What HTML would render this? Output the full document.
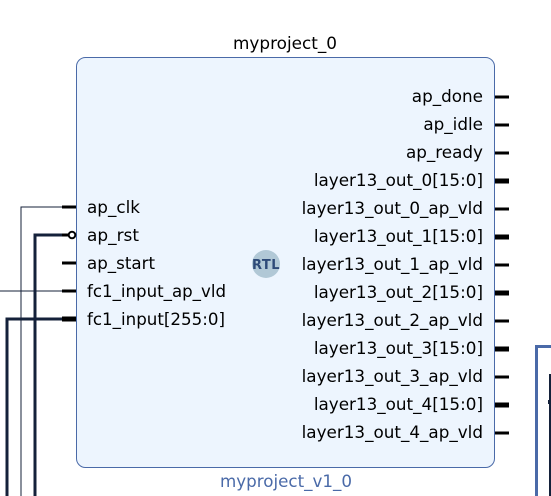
<!DOCTYPE html>
<html><head><meta charset="utf-8"><style>
html,body{margin:0;padding:0;background:#fff;}
svg{display:block;font-family:"DejaVu Sans","Liberation Sans",sans-serif;}
</style></head><body>
<svg width="551" height="496" viewBox="0 0 551 496" xmlns="http://www.w3.org/2000/svg">
<rect x="76.5" y="57.5" width="418" height="410" rx="9" fill="#edf5fe" stroke="#4a6aa8" stroke-width="1"/>
<text x="233" y="49" font-size="16.5" textLength="104" lengthAdjust="spacingAndGlyphs" fill="#000">myproject_0</text>
<text x="220" y="487" font-size="16.5" textLength="132" lengthAdjust="spacingAndGlyphs" fill="#4a6aa8">myproject_v1_0</text>
<!-- RTL logo -->
<circle cx="266" cy="264" r="14" fill="#b1c8d6"/>
<text x="266" y="269" font-size="13" font-weight="bold" text-anchor="middle" fill="#2e4a78" letter-spacing="0.5">RTL</text>
<!-- left wires -->
<g fill="none" stroke="#14213a">
<polyline points="21,496 21,207 64,207" stroke-width="1"/>
<polyline points="35,496 35,235 68,235" stroke-width="3"/>
<line x1="0" y1="291" x2="64" y2="291" stroke-width="1"/>
<polyline points="7,496 7,319 64,319" stroke-width="3"/>
</g>
<!-- left pins -->
<g stroke="#000">
<line x1="62" y1="207" x2="76" y2="207" stroke-width="3"/>
<line x1="62" y1="263" x2="76" y2="263" stroke-width="3"/>
<line x1="62" y1="291" x2="76" y2="291" stroke-width="3"/>
<line x1="62" y1="319" x2="76" y2="319" stroke-width="5"/>
<line x1="62" y1="235" x2="68" y2="235" stroke-width="3"/>
<circle cx="72" cy="235" r="3.3" fill="#fff" stroke-width="2"/>
</g>
<g font-size="16.5" fill="#000">
<text x="87" y="213" textLength="53" lengthAdjust="spacingAndGlyphs">ap_clk</text>
<text x="87" y="241" textLength="52" lengthAdjust="spacingAndGlyphs">ap_rst</text>
<text x="87" y="269" textLength="68" lengthAdjust="spacingAndGlyphs">ap_start</text>
<text x="87" y="297" textLength="139" lengthAdjust="spacingAndGlyphs">fc1_input_ap_vld</text>
<text x="87" y="325" textLength="138" lengthAdjust="spacingAndGlyphs">fc1_input[255:0]</text>
</g>
<!-- right pins -->
<g stroke="#000">
<line x1="495" y1="97" x2="509" y2="97" stroke-width="3"/>
<line x1="495" y1="125" x2="509" y2="125" stroke-width="3"/>
<line x1="495" y1="153" x2="509" y2="153" stroke-width="3"/>
<line x1="495" y1="181" x2="509" y2="181" stroke-width="5"/>
<line x1="495" y1="209" x2="509" y2="209" stroke-width="3"/>
<line x1="495" y1="237" x2="509" y2="237" stroke-width="5"/>
<line x1="495" y1="265" x2="509" y2="265" stroke-width="3"/>
<line x1="495" y1="293" x2="509" y2="293" stroke-width="5"/>
<line x1="495" y1="321" x2="509" y2="321" stroke-width="3"/>
<line x1="495" y1="349" x2="509" y2="349" stroke-width="5"/>
<line x1="495" y1="377" x2="509" y2="377" stroke-width="3"/>
<line x1="495" y1="405" x2="509" y2="405" stroke-width="5"/>
<line x1="495" y1="433" x2="509" y2="433" stroke-width="3"/>
</g>
<g font-size="16.8" fill="#000" text-anchor="end">
<text x="483" y="102">ap_done</text>
<text x="483" y="130">ap_idle</text>
<text x="483" y="158">ap_ready</text>
<text x="483" y="186">layer13_out_0[15:0]</text>
<text x="483" y="214">layer13_out_0_ap_vld</text>
<text x="483" y="242">layer13_out_1[15:0]</text>
<text x="483" y="270">layer13_out_1_ap_vld</text>
<text x="483" y="298">layer13_out_2[15:0]</text>
<text x="483" y="326">layer13_out_2_ap_vld</text>
<text x="483" y="354">layer13_out_3[15:0]</text>
<text x="483" y="382">layer13_out_3_ap_vld</text>
<text x="483" y="410">layer13_out_4[15:0]</text>
<text x="483" y="438">layer13_out_4_ap_vld</text>
</g>
<!-- right partial block -->
<rect x="536.5" y="346.5" width="30" height="160" fill="#fff" stroke="#4a6aa8" stroke-width="3"/>
<line x1="550" y1="374" x2="550" y2="496" stroke="#14213a" stroke-width="2"/>
<line x1="548" y1="402" x2="551" y2="402" stroke="#14213a" stroke-width="4"/>
</svg>
</body></html>
